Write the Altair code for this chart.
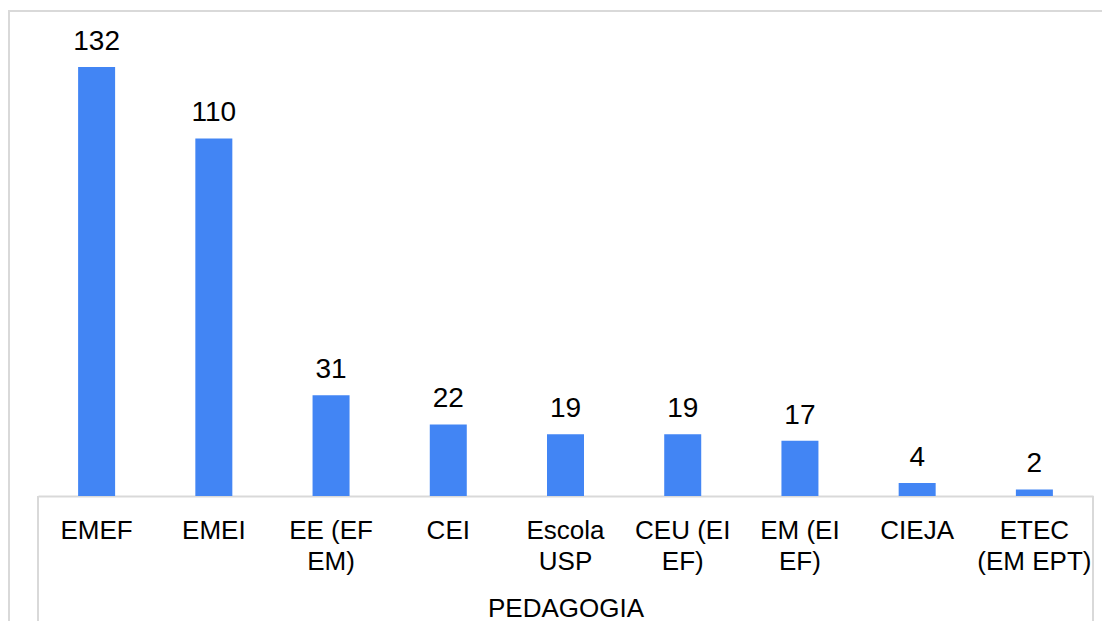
import altair as alt
import pandas as pd

# Data ("|" marks the line break in the axis label)
categories = ["EMEF", "EMEI", "EE (EF|EM)", "CEI", "Escola|USP",
              "CEU (EI|EF)", "EM (EI|EF)", "CIEJA", "ETEC|(EM EPT)"]
values = [132, 110, 31, 22, 19, 19, 17, 4, 2]
group_title = "PEDAGOGIA"

df = pd.DataFrame({"cat": categories, "n": values})

W, H = 1055, 485
FONT = "Liberation Sans"
GRAY = "#d9d9d9"
BLUE = "#4285F4"

x = alt.X(
    "cat:N",
    sort=categories,
    scale=alt.Scale(paddingInner=0, paddingOuter=0),
    axis=alt.Axis(
        title=group_title,
        labelExpr="split(datum.label, '|')",
        labelAngle=0,
        labelFont=FONT,
        labelFontSize=26,
        labelColor="#000000",
        labelBaseline="alphabetic",
        labelPadding=42,
        labelLineHeight=31,
        ticks=False,
        tickSize=0,
        domainColor=GRAY,
        domainWidth=2,
        titleFont=FONT,
        titleFontSize=26,
        titleFontWeight="normal",
        titleColor="#000000",
        titleY=120,
        titleBaseline="alphabetic",
    ),
)
y = alt.Y("n:Q", scale=alt.Scale(domain=[0, 149.2], nice=False), axis=None)

base = alt.Chart(df).encode(x=x, y=y)
bars = base.mark_bar(size=37, color=BLUE)
labels = base.mark_text(dy=-17, baseline="alphabetic", font=FONT,
                        fontSize=28, color="#000000").encode(text="n:Q")

line_df = pd.DataFrame({"k": [0]})
rule = alt.Chart(line_df).mark_rule(color=GRAY, strokeWidth=2)
left_box = rule.encode(x=alt.value(0), y=alt.value(H), y2=alt.value(H + 130))
right_box = rule.encode(x=alt.value(W), y=alt.value(H), y2=alt.value(H + 130))
outer_left = rule.encode(x=alt.value(-29), y=alt.value(0), y2=alt.value(H + 140))
outer_top = rule.encode(x=alt.value(-30), x2=alt.value(W + 40), y=alt.value(0))

chart = alt.layer(bars, labels, left_box, right_box, outer_left, outer_top).properties(
    width=W,
    height=H,
    autosize=alt.AutoSizeParams(type="none"),
    padding={"left": 30, "top": 3, "right": 9, "bottom": 125},
).configure_view(stroke=None)

chart.save("out.html", embed_options={"renderer": "svg", "actions": False})
